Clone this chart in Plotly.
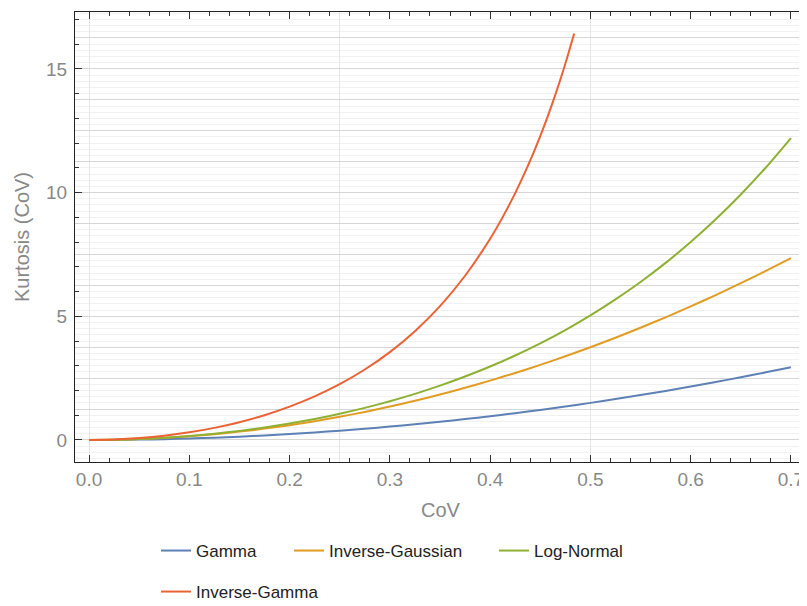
import plotly.graph_objects as go

cov = [0.0, 0.025, 0.05, 0.075, 0.1, 0.125, 0.15, 0.175, 0.2, 0.225, 0.25, 0.275,
       0.3, 0.325, 0.35, 0.375, 0.4, 0.425, 0.45, 0.475, 0.5, 0.525, 0.55, 0.575,
       0.6, 0.625, 0.65, 0.675, 0.7]
gamma_k = [0.0, 0.004, 0.015, 0.034, 0.06, 0.094, 0.135, 0.184, 0.24, 0.304, 0.375, 0.454,
           0.54, 0.634, 0.735, 0.844, 0.96, 1.084, 1.215, 1.354, 1.5, 1.654, 1.815, 1.984,
           2.16, 2.344, 2.535, 2.734, 2.94]
invgauss_k = [0.0, 0.009, 0.038, 0.084, 0.15, 0.234, 0.338, 0.459, 0.6, 0.759, 0.938, 1.134,
              1.35, 1.584, 1.838, 2.109, 2.4, 2.709, 3.038, 3.384, 3.75, 4.134, 4.538, 4.959,
              5.4, 5.859, 6.338, 6.834, 7.35]
lognorm_k = [0.0, 0.010, 0.040, 0.091, 0.162, 0.254, 0.368, 0.504, 0.664, 0.849, 1.060, 1.298,
             1.566, 1.865, 2.196, 2.564, 2.969, 3.416, 3.907, 4.445, 5.035, 5.681, 6.387, 7.159,
             8.001, 8.920, 9.922, 11.015, 12.205]
cov_ig = [0.0, 0.025, 0.05, 0.075, 0.1, 0.125, 0.15, 0.175, 0.2, 0.225, 0.25, 0.275,
          0.3, 0.325, 0.35, 0.375, 0.4, 0.4125, 0.425, 0.4375, 0.45, 0.4625, 0.475, 0.4838]
invgamma_k = [0.0, 0.019, 0.076, 0.171, 0.309, 0.490, 0.720, 1.003, 1.348, 1.762, 2.257, 2.848,
              3.553, 4.397, 5.411, 6.638, 8.134, 9.008, 9.979, 11.066, 12.284, 13.657, 15.210, 16.43]

names = ["Gamma", "Inverse-Gaussian", "Log-Normal", "Inverse-Gamma"]
colors = ["#5E81B5", "#E19C24", "#8FB032", "#EB6235"]
legend_ids = ["legend", "legend2", "legend3", "legend4"]

fig = go.Figure()
series = [(cov, gamma_k), (cov, invgauss_k), (cov, lognorm_k), (cov_ig, invgamma_k)]
for i, (xs, ys) in enumerate(series):
    fig.add_trace(go.Scatter(
        x=xs, y=ys, mode="lines", name=names[i],
        line=dict(color=colors[i], width=2, shape="spline", smoothing=0.6),
        legend=legend_ids[i],
        xaxis="x2", yaxis="y2",
    ))
# dummy trace to activate grid axes
fig.add_trace(go.Scatter(x=[0], y=[0], mode="lines", showlegend=False,
                         hoverinfo="skip", line=dict(width=0), xaxis="x", yaxis="y"))

xr = [-0.014, 0.715]
yr = [-0.89, 17.3]
FONT = "Liberation Sans, Arial, sans-serif"
tickfont = dict(family=FONT, size=19, color="#888888")

# page body has an 8px margin; compensate so the frame lands where the reference has it
OFF = 8
W, H = 807, 606


def leg(xpage, ypage):
    return dict(orientation="h", xref="container", yref="container",
                x=(xpage - OFF) / W, y=(H - (ypage - OFF)) / H,
                xanchor="left", yanchor="middle",
                font=dict(family=FONT, size=17, color="#222222"),
                bgcolor="rgba(0,0,0,0)")


fig.update_layout(
    width=W, height=H,
    margin=dict(l=75 - OFF, r=1 + OFF, t=12 - OFF, b=144 + OFF, autoexpand=False),
    plot_bgcolor="white", paper_bgcolor="white",
    showlegend=True,
    xaxis=dict(range=xr, showgrid=True, gridcolor="#e6e6e6", gridwidth=1,
               tick0=0, dtick=0.25, showticklabels=False, ticks="",
               zeroline=False, showline=False),
    yaxis=dict(range=yr, showgrid=True, gridcolor="#d6d6d6", gridwidth=1,
               tick0=0, dtick=1.25, showticklabels=False, ticks="",
               zeroline=False, showline=False,
               minor=dict(dtick=0.25, showgrid=True, gridcolor="#f1f1f1", ticks="")),
    xaxis2=dict(range=xr, overlaying="x", showgrid=False, zeroline=False,
                tick0=0, dtick=0.1, tickformat=".1f", ticks="inside", ticklen=7,
                tickcolor="#333333", tickwidth=1, mirror="ticks",
                showline=True, linecolor="#222222", linewidth=1,
                tickfont=tickfont, ticklabelstandoff=0,
                minor=dict(dtick=0.02, ticks="inside", ticklen=4, tickcolor="#333333",
                           showgrid=False),
                title=dict(text="CoV", standoff=14,
                           font=dict(family=FONT, size=20, color="#888888"))),
    yaxis2=dict(range=yr, overlaying="y", showgrid=False, zeroline=False,
                tick0=0, dtick=5, ticks="inside", ticklen=7,
                tickcolor="#333333", tickwidth=1, mirror="ticks",
                showline=True, linecolor="#222222", linewidth=1,
                tickfont=tickfont, ticklabelstandoff=3,
                minor=dict(dtick=1, ticks="inside", ticklen=4, tickcolor="#333333",
                           showgrid=False),
                title=dict(text="Kurtosis (CoV)", standoff=11,
                           font=dict(family=FONT, size=20, color="#888888"))),
    legend=leg(156, 551),
    legend2=leg(289, 551),
    legend3=leg(494, 551),
    legend4=leg(156, 592),
)

fig.write_html("out.html")
